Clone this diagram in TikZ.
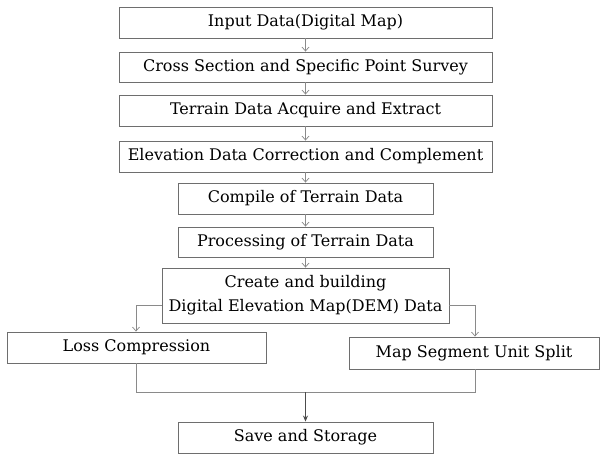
\documentclass[tikz,border=0pt]{standalone}
\usepackage{fontspec}
\setmainfont{DejaVu Serif}
\usetikzlibrary{arrows.meta}
\definecolor{boxgray}{HTML}{6E6E6E}
\definecolor{linegray}{HTML}{8A8A8A}
\begin{document}
\begin{tikzpicture}[x=1pt,y=-1pt,
  box/.style={draw=boxgray,line width=0.9pt,inner sep=0pt,align=center,
    font=\fontsize{16}{24}\selectfont,text=black},
  conn/.style={draw=linegray,line width=0.8pt},
  arr/.style={conn,-{Straight Barb[length=4pt,width=7pt,line width=0.7pt]}},
  arrs/.style={draw=black!70,line width=0.8pt,-{Stealth[length=6pt,width=5pt]}}]
\useasboundingbox (0,0) rectangle (602,455);
\node[box,minimum width=373pt,minimum height=31pt] (in) at (305.5,22.5) {Input Data(Digital Map)};
\node[box,minimum width=373pt,minimum height=30pt] (cs) at (305.5,67) {Cross Section and Specific Point Survey};
\node[box,minimum width=373pt,minimum height=31pt] (td) at (305.5,110.5) {Terrain Data Acquire and Extract};
\node[box,minimum width=373pt,minimum height=31pt] (ec) at (305.5,156.5) {Elevation Data Correction and Complement};
\node[box,minimum width=255pt,minimum height=31pt] (co) at (305.5,198.5) {Compile of Terrain Data};
\node[box,minimum width=255pt,minimum height=30pt] (pr) at (305.5,242) {Processing of Terrain Data};
\node[box,minimum width=287pt,minimum height=55pt] (cr) at (305.5,295.5) {Create and building\\Digital Elevation Map(DEM) Data};
\node[box,minimum width=259pt,minimum height=31pt] (lc) at (136.5,347.5) {Loss Compression};
\node[box,minimum width=250pt,minimum height=32pt] (ms) at (474,353) {Map Segment Unit Split};
\node[box,minimum width=255pt,minimum height=31pt] (ss) at (305.5,437.5) {Save and Storage};
\coordinate (lt) at (136,305);
\coordinate (rt) at (475,305);
\coordinate (jl) at (136,392);
\coordinate (jr) at (475,392);
\coordinate (jm) at (305.5,392);
\draw[arr] (in) -- (cs);
\draw[arr] (cs) -- (td);
\draw[arr] (td) -- (ec);
\draw[arr] (ec) -- (co);
\draw[arr] (co) -- (pr);
\draw[arr] (pr) -- (cr);
\draw[conn] (cr.west |- lt) -- (lt);
\draw[arr] (lt) -- (lt |- lc.north);
\draw[conn] (cr.east |- rt) -- (rt);
\draw[arr] (rt) -- (rt |- ms.north);
\draw[conn] (jl |- lc.south) -- (jl) -- (jr) -- (jr |- ms.south);
\draw[arrs] (jm) -- (ss);
\end{tikzpicture}
\end{document}
